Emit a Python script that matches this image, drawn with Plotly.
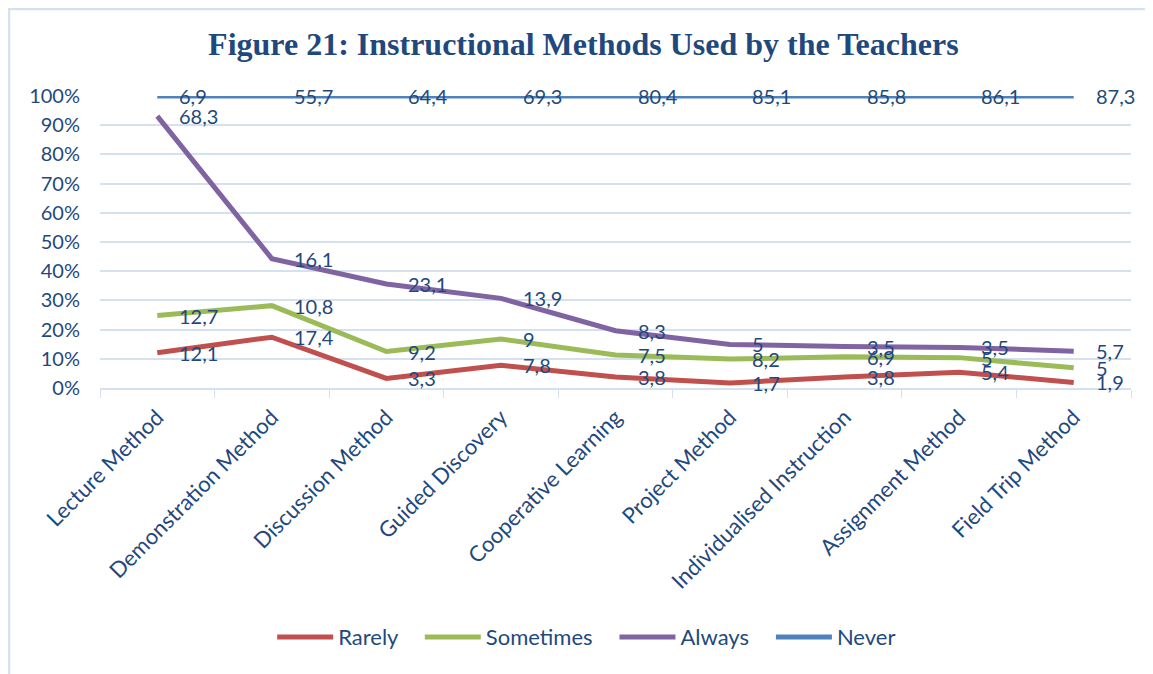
import numpy as np
import plotly.graph_objects as go

categories = ["Lecture Method", "Demonstration Method", "Discussion Method", "Guided Discovery",
              "Cooperative Learning", "Project Method", "Individualised Instruction",
              "Assignment Method", "Field Trip Method"]
rarely = [12.1, 17.4, 3.3, 7.8, 3.8, 1.7, 3.8, 5.4, 1.9]
sometimes = [12.7, 10.8, 9.2, 9, 7.5, 8.2, 6.9, 5, 5]
always = [68.3, 16.1, 23.1, 13.9, 8.3, 5, 3.5, 3.5, 5.7]
never = [6.9, 55.7, 64.4, 69.3, 80.4, 85.1, 85.8, 86.1, 87.3]
series_names = ["Rarely", "Sometimes", "Always", "Never"]
series_colors = ["#C0504D", "#9BBB59", "#8064A2", "#4F81BD"]

TXT = "#1F497D"
FONT = "Lato"
PAD = "\u00a0\u00a0\u00a0"

all_vals = [rarely, sometimes, always, never]
totals = np.sum([np.array(v) for v in all_vals], axis=0)
cum = np.zeros(len(categories))
fig = go.Figure()
annotations = []
for i, (name, vals, color) in enumerate(zip(series_names, all_vals, series_colors)):
    v = np.array(vals, dtype=float)
    cum = cum + v
    pct = cum / totals * 100
    legend_name = name + (PAD if i < len(series_names) - 1 else "")
    fig.add_trace(go.Scatter(x=categories, y=pct, name=legend_name, mode="lines",
                             line=dict(color=color, width=5)))
    for c, p, raw in zip(categories, pct, vals):
        lab = ("%g" % raw).replace(".", ",")
        annotations.append(dict(x=c, y=p, xref="x", yref="y", text=lab, showarrow=False,
                                xanchor="left", yanchor="middle", xshift=20,
                                font=dict(family=FONT, size=20, color=TXT)))

fig.update_layout(
    width=1153, height=674,
    paper_bgcolor="white", plot_bgcolor="white",
    margin=dict(l=92, r=30, t=88, b=294, autoexpand=False),
    title=dict(text="<b>Figure 21: Instructional Methods Used by the Teachers</b>",
               x=0.499, xanchor="center", y=0.947, yanchor="middle",
               font=dict(family="Liberation Serif", size=32, color=TXT)),
    font=dict(family=FONT, size=20, color=TXT),
    showlegend=True,
    legend=dict(orientation="h", x=0.167, xanchor="left", y=-0.853, yanchor="middle",
                font=dict(family=FONT, size=22, color=TXT),
                itemwidth=56, traceorder="normal"),
    annotations=annotations,
    shapes=[dict(type="rect", xref="paper", yref="paper",
                 x0=-0.0883, x1=1.1, y0=-1.2, y1=1.298,
                 line=dict(color="#D5E1EF", width=2.5), fillcolor="rgba(0,0,0,0)", layer="below")],
)
fig.update_xaxes(type="category", range=[-0.5, 8.5], tickson="boundaries",
                 ticks="outside", ticklen=8, tickcolor="#D5E1EF",
                 showline=True, linecolor="#D5E1EF", linewidth=1.5,
                 showgrid=False, tickangle=-45, automargin=False, ticklabelstandoff=6,
                 tickfont=dict(family=FONT, size=22, color=TXT))
fig.update_yaxes(range=[0, 100], dtick=10, ticksuffix="%", showgrid=True,
                 gridcolor="#D5E1EF", gridwidth=1.5, zeroline=False, showline=False,
                 ticks="", automargin=False, ticklabelstandoff=19,
                 tickfont=dict(family=FONT, size=20, color=TXT))
fig.write_html("out.html")
